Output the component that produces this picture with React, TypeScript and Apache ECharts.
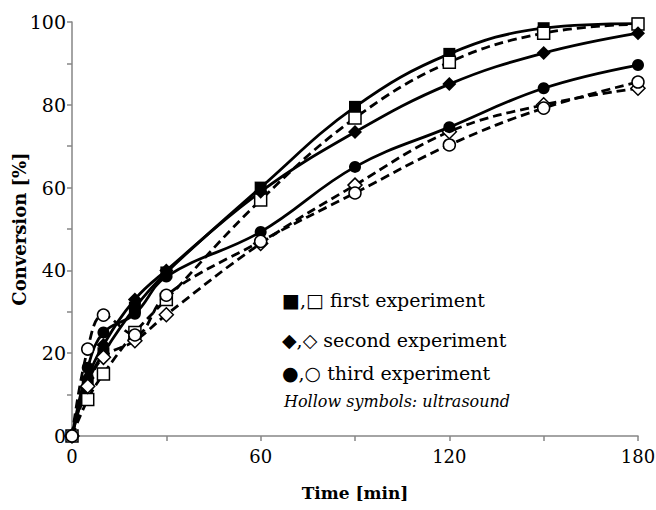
import React, { useEffect, useRef } from "react";
import * as echarts from "echarts";

const times = [0, 5, 10, 20, 30, 60, 90, 120, 150, 180];
const firstConventional = [0, 13, 20, 31, 39.5, 60, 79.5, 92.3, 98.5, 99.6];
const firstUltrasound = [0, 8.8, 15, 25, 33, 57, 76.8, 90.3, 97.3, 99.5];
const secondConventional = [0, 14, 22, 33, 40, 59, 73.4, 85, 92.5, 97.3];
const secondUltrasound = [0, 12, 19, 23, 29.3, 46.5, 60.6, 73.5, 80, 84];
const thirdConventional = [0, 16.5, 25, 29.5, 38.5, 49.3, 65, 74.6, 84, 89.6];
const thirdUltrasound = [0, 21, 29.2, 24.4, 34, 47, 58.7, 70.3, 79.2, 85.5];

const xLabelStep = 60;
const yLabelStep = 20;

const legendLines = [
  "■,□ first experiment",
  "◆,◇ second experiment",
  "●,○ third experiment",
];
const legendNote = "Hollow symbols: ultrasound";

const FONT = "'DejaVu Serif', serif";

function makeSeries(
  name: string,
  values: number[],
  symbol: string,
  hollow: boolean
) {
  return {
    name,
    type: "line",
    data: times.map((t, i) => [t, values[i]]),
    smooth: 0.4,
    symbol,
    symbolSize: symbol === "diamond" ? 14 : 12,
    showSymbol: true,
    lineStyle: {
      color: "#000",
      width: 2.8,
      type: hollow ? [9, 5] : "solid",
    },
    itemStyle: hollow
      ? { color: "#fff", borderColor: "#000", borderWidth: 1.5 }
      : { color: "#000", borderColor: "#000", borderWidth: 0 },
    emphasis: { disabled: true },
  };
}

export default function App() {
  const ref = useRef<HTMLDivElement>(null);
  useEffect(() => {
    if (!ref.current) return;
    const chart = echarts.init(ref.current, null, { renderer: "svg" });
    const legendGraphics: any[] = legendLines.map((txt, i) => ({
      type: "text",
      left: 282,
      top: [290, 330, 363][i],
      style: { text: txt, font: `19px ${FONT}`, fill: "#000" },
    }));
    legendGraphics.push({
      type: "text",
      left: 284,
      top: 393,
      style: { text: legendNote, font: `italic 16px ${FONT}`, fill: "#000" },
    });
    chart.setOption({
      animation: false,
      backgroundColor: "#fff",
      grid: {
        left: 72,
        right: 18,
        top: 22,
        bottom: 74,
        containLabel: false,
        outerBoundsMode: "none",
      },
      xAxis: {
        type: "value",
        min: 0,
        max: 180,
        interval: 30,
        name: "Time [min]",
        nameLocation: "middle",
        nameGap: 48,
        nameMoveOverlap: false,
        nameTextStyle: { fontFamily: FONT, fontWeight: "bold", fontSize: 17, color: "#000" },
        axisLine: { show: true, lineStyle: { color: "#868686", width: 1.5 } },
        axisTick: { show: true, length: 5, lineStyle: { color: "#868686", width: 1.5 } },
        axisLabel: {
          fontFamily: FONT,
          fontSize: 18,
          color: "#000",
          margin: 11,
          formatter: (v: number) => (v % xLabelStep === 0 ? String(v) : ""),
        },
        splitLine: { show: false },
      },
      yAxis: {
        type: "value",
        min: 0,
        max: 100,
        interval: 10,
        name: "Conversion [%]",
        nameLocation: "middle",
        nameGap: 44,
        nameMoveOverlap: false,
        nameTextStyle: { fontFamily: FONT, fontWeight: "bold", fontSize: 18, color: "#000" },
        axisLine: { show: true, lineStyle: { color: "#868686", width: 1.5 } },
        axisTick: { show: true, length: 5, lineStyle: { color: "#868686", width: 1.5 } },
        axisLabel: {
          fontFamily: FONT,
          fontSize: 19,
          color: "#000",
          margin: 6,
          formatter: (v: number) => (v % yLabelStep === 0 ? String(v) : ""),
        },
        splitLine: { show: false },
      },
      series: [
        makeSeries("first conventional", firstConventional, "rect", false),
        makeSeries("first ultrasound", firstUltrasound, "rect", true),
        makeSeries("second conventional", secondConventional, "diamond", false),
        makeSeries("second ultrasound", secondUltrasound, "diamond", true),
        makeSeries("third conventional", thirdConventional, "circle", false),
        makeSeries("third ultrasound", thirdUltrasound, "circle", true),
      ],
      graphic: legendGraphics,
    });
    return () => chart.dispose();
  }, []);
  return (
    <div
      ref={ref}
      style={{ position: "absolute", left: 0, top: 0, width: 656, height: 510 }}
    />
  );
}
